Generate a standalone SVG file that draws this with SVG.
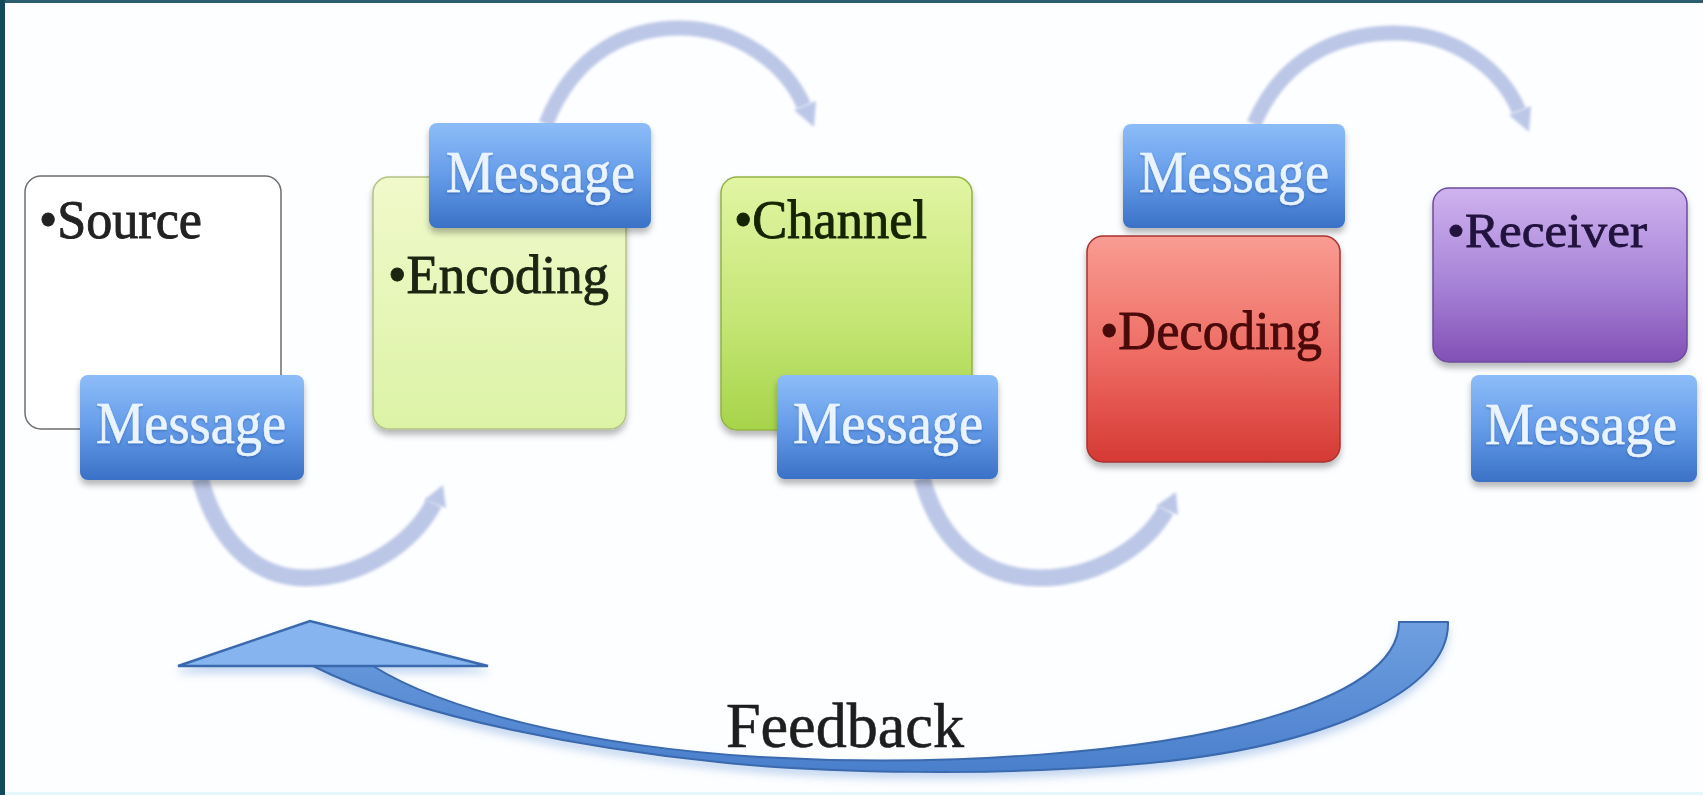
<svg xmlns="http://www.w3.org/2000/svg" width="1703" height="795" viewBox="0 0 1703 795">
  <defs>
    <style>
      .serif { font-family: "Liberation Serif", "DejaVu Serif", serif; }
      .label { font-size: 55px; stroke-width: 0.9; }
      .msg { font-size: 60px; fill: #eaf4ff; stroke: #eaf4ff; stroke-width: 0.6; filter: url(#glow); }
      .msgbox { fill: url(#msgGrad); filter: url(#shadow); }
      .arc { fill: none; stroke: #bcc7e7; stroke-width: 15; filter: url(#soft); }
      .arcHead { fill: #bcc7e7; filter: url(#soft); }
    </style>
    <linearGradient id="msgGrad" x1="0" y1="0" x2="0" y2="1">
      <stop offset="0" stop-color="#8dbdf8"/>
      <stop offset="0.5" stop-color="#659ce9"/>
      <stop offset="1" stop-color="#3a71c6"/>
    </linearGradient>
    <linearGradient id="encGrad" x1="0" y1="0" x2="0" y2="1">
      <stop offset="0" stop-color="#f1f9cb"/>
      <stop offset="1" stop-color="#dcf3a6"/>
    </linearGradient>
    <linearGradient id="chanGrad" x1="0" y1="0" x2="0" y2="1">
      <stop offset="0" stop-color="#e1f5a3"/>
      <stop offset="0.55" stop-color="#c6e676"/>
      <stop offset="1" stop-color="#a6d44a"/>
    </linearGradient>
    <linearGradient id="decGrad" x1="0" y1="0" x2="0" y2="1">
      <stop offset="0" stop-color="#f99c92"/>
      <stop offset="0.55" stop-color="#ed6a62"/>
      <stop offset="1" stop-color="#d53934"/>
    </linearGradient>
    <linearGradient id="recGrad" x1="0" y1="0" x2="0" y2="1">
      <stop offset="0" stop-color="#cfb3ef"/>
      <stop offset="0.55" stop-color="#a783d7"/>
      <stop offset="1" stop-color="#8250b6"/>
    </linearGradient>
    <linearGradient id="fbGrad" x1="0" y1="0" x2="0" y2="1">
      <stop offset="0" stop-color="#6f9fe0"/>
      <stop offset="1" stop-color="#4a7fcc"/>
    </linearGradient>
    <filter id="shadow" x="-10%" y="-10%" width="120%" height="130%">
      <feDropShadow dx="0" dy="5" stdDeviation="3" flood-color="#000" flood-opacity="0.28"/>
    </filter>
    <filter id="glow" x="-5%" y="-10%" width="110%" height="130%">
      <feDropShadow dx="0" dy="1.5" stdDeviation="1" flood-color="#1d4f9a" flood-opacity="0.5"/>
    </filter>
    <filter id="soft" x="-10%" y="-10%" width="120%" height="120%">
      <feGaussianBlur stdDeviation="1.4"/>
    </filter>
    <filter id="fbShadow" x="-5%" y="-10%" width="110%" height="130%">
      <feDropShadow dx="0" dy="6" stdDeviation="4" flood-color="#5c8fd4" flood-opacity="0.35"/>
    </filter>
  </defs>

  <!-- page background and frame -->
  <rect x="0" y="0" width="1703" height="795" fill="#fdfeff"/>
  <rect x="0" y="792" width="1703" height="3" fill="#e4f8fc"/>
  <rect x="0" y="0" width="1703" height="3" fill="#2b5f70"/>
  <rect x="0" y="0" width="5" height="795" fill="#124a5c"/>

  <!-- connectors -->
  <g id="connectors">
    <path class="arc" d="M 546 124 C 575 50 630 28 680 28 C 738 28 786 64 804 106"/>
    <polygon class="arcHead" points="794,110 816,101 814,127"/>
    <path class="arc" d="M 1254 124 C 1285 52 1345 33 1395 33 C 1455 33 1502 70 1519 111"/>
    <polygon class="arcHead" points="1509,115 1531,106 1529,132"/>
    <path class="arc" style="stroke-width:17" d="M 200 478 C 218 545 258 578 306 578 C 360 578 412 545 434 503"/>
    <polygon class="arcHead" points="424,500 446,508 443,485"/>
    <path class="arc" style="stroke-width:17" d="M 922 478 C 940 545 985 578 1040 578 C 1096 578 1145 547 1166 510"/>
    <polygon class="arcHead" points="1156,506 1178,515 1176,492"/>

    <g id="feedback-arrow" filter="url(#fbShadow)">
      <path fill="url(#fbGrad)" stroke="#3b69ad" stroke-width="2" stroke-linejoin="round"
            d="M 1448 622 C 1450 690 1330 745 1150 763 C 1000 777 820 773 718 762 C 600 750 420 720 313 666
               L 373 666 C 440 708 580 746 760 757 C 950 768 1150 752 1261 720 C 1350 695 1399 662 1399 622 Z"/>
      <polygon fill="#86b4ef" stroke="#3b69ad" stroke-width="2.5" stroke-linejoin="miter"
               points="178,666 310,621 488,666 373,666 313,666"/>
    </g>
  </g>

  <!-- Source -->
  <g id="source">
    <rect x="25" y="176" width="256" height="253" rx="16" fill="#ffffff" stroke="#6e6e6e" stroke-width="1.5"/>
    <text class="serif label" x="39" y="238" fill="#222222" stroke="#222222" textLength="163" lengthAdjust="spacingAndGlyphs">•Source</text>
  </g>
  <g id="source-message">
    <rect class="msgbox" x="80" y="375" width="224" height="105" rx="8"/>
    <text class="serif msg" x="96" y="443" textLength="190" lengthAdjust="spacingAndGlyphs">Message</text>
  </g>

  <!-- Encoding -->
  <g id="encoding">
    <rect x="373" y="177" width="253" height="252" rx="16" fill="url(#encGrad)" stroke="#b3c286" stroke-width="1.5" filter="url(#shadow)"/>
    <text class="serif label" x="388" y="293" fill="#1c2412" stroke="#1c2412" textLength="221" lengthAdjust="spacingAndGlyphs">•Encoding</text>
  </g>
  <g id="encoding-message">
    <rect class="msgbox" x="429" y="123" width="222" height="105" rx="8"/>
    <text class="serif msg" x="446" y="192" textLength="189" lengthAdjust="spacingAndGlyphs">Message</text>
  </g>

  <!-- Channel -->
  <g id="channel">
    <rect x="721" y="177" width="251" height="253" rx="16" fill="url(#chanGrad)" stroke="#92b244" stroke-width="1.5" filter="url(#shadow)"/>
    <text class="serif label" x="734" y="238" fill="#142404" stroke="#142404" textLength="193" lengthAdjust="spacingAndGlyphs">•Channel</text>
  </g>
  <g id="channel-message">
    <rect class="msgbox" x="777" y="375" width="221" height="104" rx="8"/>
    <text class="serif msg" x="793" y="443" textLength="190" lengthAdjust="spacingAndGlyphs">Message</text>
  </g>

  <!-- Decoding -->
  <g id="decoding-message">
    <rect class="msgbox" x="1123" y="124" width="222" height="104" rx="8"/>
    <text class="serif msg" x="1139" y="192" textLength="190" lengthAdjust="spacingAndGlyphs">Message</text>
  </g>
  <g id="decoding">
    <rect x="1087" y="236" width="253" height="226" rx="16" fill="url(#decGrad)" stroke="#a83230" stroke-width="1.5" filter="url(#shadow)"/>
    <text class="serif label" x="1100" y="349" fill="#4a0a0a" stroke="#4a0a0a" textLength="222" lengthAdjust="spacingAndGlyphs">•Decoding</text>
  </g>

  <!-- Receiver -->
  <g id="receiver">
    <rect x="1433" y="188" width="254" height="174" rx="16" fill="url(#recGrad)" stroke="#6e4e9c" stroke-width="1.5" filter="url(#shadow)"/>
    <text class="serif" x="1447" y="247" font-size="49" fill="#22123e" stroke="#22123e" stroke-width="0.8" textLength="200" lengthAdjust="spacingAndGlyphs">•Receiver</text>
  </g>
  <g id="receiver-message">
    <rect class="msgbox" x="1471" y="375" width="226" height="107" rx="8"/>
    <text class="serif msg" x="1485" y="444" textLength="192" lengthAdjust="spacingAndGlyphs">Message</text>
  </g>

  <!-- Feedback label -->
  <g id="feedback-label">
    <text class="serif" x="726" y="747" font-size="64" fill="#1e1e1e" stroke="#1e1e1e" stroke-width="0.6" textLength="238" lengthAdjust="spacingAndGlyphs">Feedback</text>
  </g>
</svg>
